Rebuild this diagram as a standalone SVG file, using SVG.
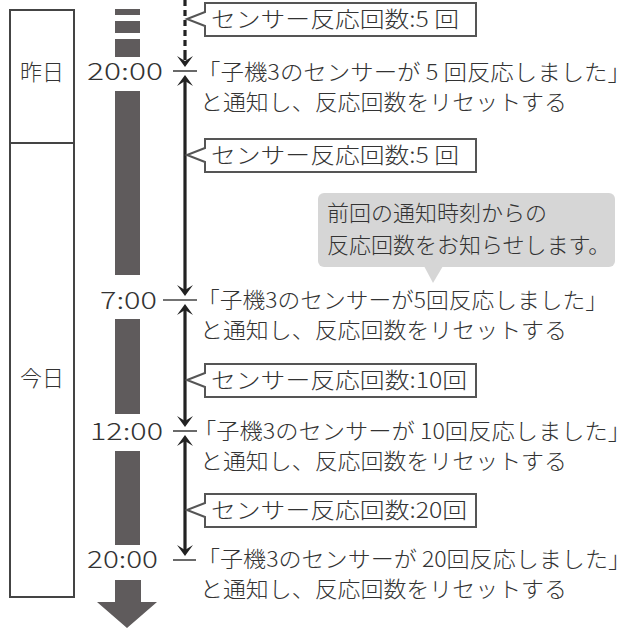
<svg xmlns="http://www.w3.org/2000/svg" width="634" height="631" viewBox="0 0 634 631">
<style>
  text { font-family: "Noto Sans CJK JP", "Noto Sans", sans-serif; fill: #333; font-weight: 300; }
  .t { font-size: 22px; }
  .time { font-size: 23px; }
  .bar { fill: #5f5b5c; }
  .box { fill: #fff; stroke: #555; stroke-width: 2; }
  .vl { stroke: #222; stroke-width: 3.2; fill: none; }
  .tick { stroke: #444; stroke-width: 1.6; }
</style>
<defs>
  <path id="ah" d="M0,0 L-8,-11 L0,-6 L8,-11 Z" fill="#222"/>
</defs>
<rect width="634" height="631" fill="#fff"/>

<g id="days">
  <rect x="10" y="10" width="64" height="587" fill="#fff" stroke="#444" stroke-width="2"/>
  <line x1="10" y1="143" x2="74" y2="143" stroke="#444" stroke-width="2"/>
  <text class="t" x="42" y="80" text-anchor="middle">昨日</text>
  <text class="t" x="42" y="386" text-anchor="middle">今日</text>
</g>

<g id="timebar">
  <rect class="bar" x="115" y="9" width="25" height="6"/>
  <rect class="bar" x="115" y="21" width="25" height="12"/>
  <rect class="bar" x="115" y="39" width="25" height="18"/>
  <rect class="bar" x="115" y="91" width="25" height="184"/>
  <rect class="bar" x="115" y="319" width="25" height="95"/>
  <rect class="bar" x="115" y="451" width="25" height="94"/>
  <path class="bar" d="M115,580 H141 V602 H157 L127,628 L97,602 H115 Z"/>
</g>

<g id="times">
  <text class="time" x="87" y="80" textLength="76" lengthAdjust="spacingAndGlyphs">20:00</text>
  <text class="time" x="100" y="309" textLength="57" lengthAdjust="spacingAndGlyphs">7:00</text>
  <text class="time" x="90" y="440" textLength="73" lengthAdjust="spacingAndGlyphs">12:00</text>
  <text class="time" x="87" y="568" textLength="71" lengthAdjust="spacingAndGlyphs">20:00</text>
</g>

<g id="connectors">
  <line class="vl" x1="185" y1="0" x2="185" y2="50" stroke-dasharray="6 4"/>
  <line class="vl" x1="185" y1="50" x2="185" y2="60"/>
  <use href="#ah" x="185" y="67"/>
  <line class="tick" x1="173" y1="71" x2="197" y2="71"/>

  <line class="vl" x1="185" y1="80" x2="185" y2="290"/>
  <use href="#ah" transform="translate(185,75) rotate(180)"/>
  <use href="#ah" x="185" y="296"/>
  <line class="tick" x1="163" y1="300" x2="197" y2="300"/>

  <line class="vl" x1="185" y1="309" x2="185" y2="421"/>
  <use href="#ah" transform="translate(185,304) rotate(180)"/>
  <use href="#ah" x="185" y="427"/>
  <line class="tick" x1="173" y1="431" x2="197" y2="431"/>

  <line class="vl" x1="185" y1="440" x2="185" y2="550"/>
  <use href="#ah" transform="translate(185,435) rotate(180)"/>
  <use href="#ah" x="185" y="556"/>
  <line class="tick" x1="173" y1="560" x2="196" y2="560"/>
</g>

<g id="count1">
  <path class="box" d="M205,3 H476 V36 H205 V26 L187,19 L205,12 Z"/>
  <text class="t" x="211" y="27" textLength="248" lengthAdjust="spacingAndGlyphs">センサー反応回数:5 回</text>
</g>
<g id="count2">
  <path class="box" d="M205,139 H476 V172 H205 V162 L187,155 L205,148 Z"/>
  <text class="t" x="211" y="163" textLength="248" lengthAdjust="spacingAndGlyphs">センサー反応回数:5 回</text>
</g>
<g id="count3">
  <path class="box" d="M205,364 H476 V397 H205 V387 L187,380 L205,373 Z"/>
  <text class="t" x="211" y="388" textLength="256" lengthAdjust="spacingAndGlyphs">センサー反応回数:10回</text>
</g>
<g id="count4">
  <path class="box" d="M205,494 H476 V527 H205 V517 L187,510 L205,503 Z"/>
  <text class="t" x="211" y="518" textLength="256" lengthAdjust="spacingAndGlyphs">センサー反応回数:20回</text>
</g>

<g id="notify1">
  <text class="t" x="197" y="80" textLength="434" lengthAdjust="spacingAndGlyphs">「子機3のセンサーが 5 回反応しました」</text>
  <text class="t" x="200" y="110" textLength="367" lengthAdjust="spacingAndGlyphs">と通知し、反応回数をリセットする</text>
</g>
<g id="notify2">
  <text class="t" x="197" y="308" textLength="411" lengthAdjust="spacingAndGlyphs">「子機3のセンサーが5回反応しました」</text>
  <text class="t" x="200" y="338" textLength="367" lengthAdjust="spacingAndGlyphs">と通知し、反応回数をリセットする</text>
</g>
<g id="notify3">
  <text class="t" x="193" y="439" textLength="438" lengthAdjust="spacingAndGlyphs">「子機3のセンサーが 10回反応しました」</text>
  <text class="t" x="200" y="469" textLength="367" lengthAdjust="spacingAndGlyphs">と通知し、反応回数をリセットする</text>
</g>
<g id="notify4">
  <text class="t" x="197" y="567" textLength="434" lengthAdjust="spacingAndGlyphs">「子機3のセンサーが 20回反応しました」</text>
  <text class="t" x="200" y="597" textLength="367" lengthAdjust="spacingAndGlyphs">と通知し、反応回数をリセットする</text>
</g>

<g id="bubble">
  <rect x="318" y="193" width="297" height="74" rx="6" fill="#d6d6d6"/>
  <path d="M424,266 L443,266 L433,283 Z" fill="#d6d6d6"/>
  <text class="t" x="327" y="221">前回の通知時刻からの</text>
  <text class="t" x="327" y="253">反応回数をお知らせします。</text>
</g>
</svg>
